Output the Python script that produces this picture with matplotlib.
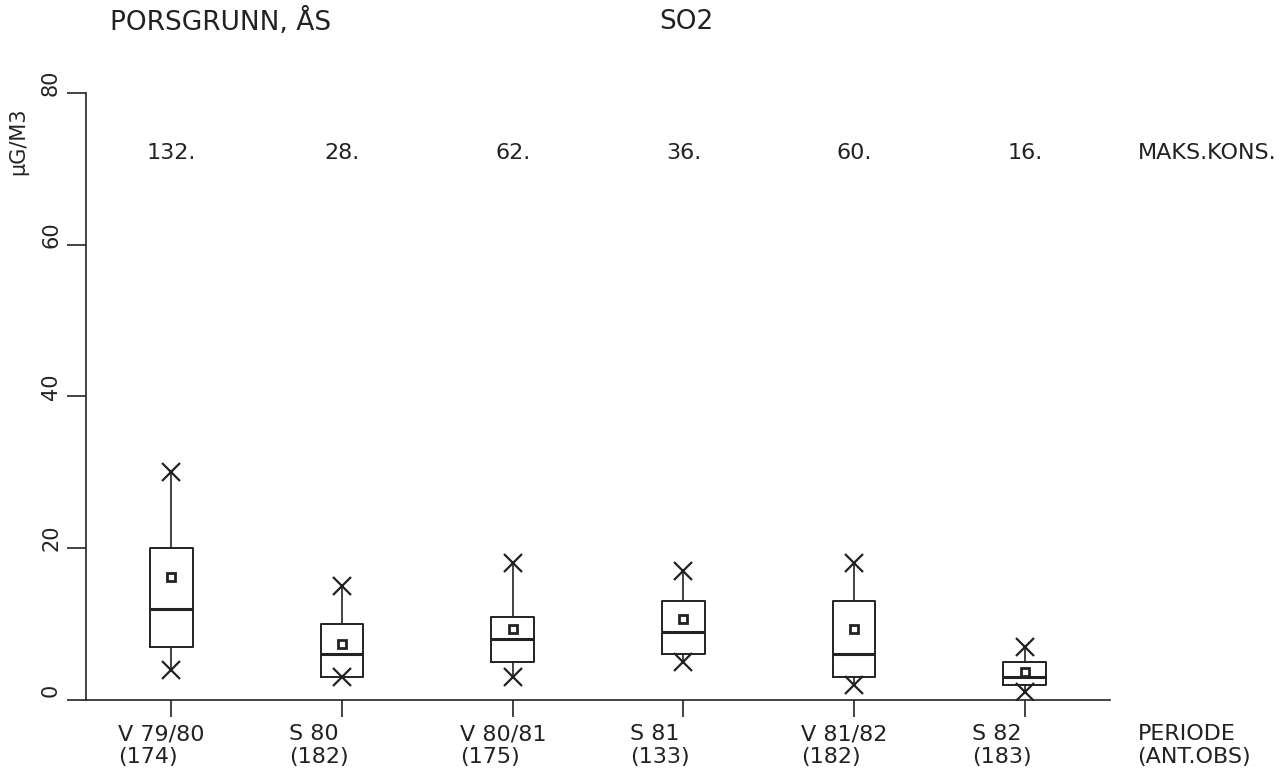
import matplotlib
matplotlib.use("Agg")
import matplotlib.pyplot as plt
import matplotlib.transforms as mtransforms

# periods, observation counts and box statistics (ug/m3)
periods = ["V 79/80", "S 80", "V 80/81", "S 81", "V 81/82", "S 82"]
n_obs = [174, 182, 175, 133, 182, 183]
max_kons = ["132.", "28.", "62.", "36.", "60.", "16."]
whis_lo = [4, 3, 3, 5, 2, 1]
q1 = [7, 3, 5, 6, 3, 2]
median = [12, 6, 8, 9, 6, 3]
q3 = [20, 10, 11, 13, 13, 5]
whis_hi = [30, 15, 18, 17, 18, 7]
mean = [16.2, 7.4, 9.3, 10.7, 9.4, 3.7]

INK = "#222222"
plt.rcParams["font.family"] = ["DejaVu Sans"]

fig = plt.figure(figsize=(12.86, 7.71), dpi=100)
ax = fig.add_axes([0.0669, 0.0921, 0.7963, 0.7873])

pos = list(range(1, len(periods) + 1))
stats = []
for i in range(len(periods)):
    stats.append({"med": median[i], "q1": q1[i], "q3": q3[i],
                  "whislo": whis_lo[i], "whishi": whis_hi[i],
                  "mean": mean[i], "fliers": []})

ax.bxp(stats, positions=pos, widths=0.25, showcaps=False, showmeans=True,
       showfliers=False,
       boxprops=dict(color=INK, linewidth=1.4),
       whiskerprops=dict(color=INK, linewidth=1.2),
       medianprops=dict(color=INK, linewidth=2.2),
       meanprops=dict(marker="s", markersize=6, markerfacecolor="white",
                      markeredgecolor=INK, markeredgewidth=2.0))

# extreme values as crosses at the whisker ends
ax.plot(pos, whis_hi, ls="none", marker="x", ms=13, mew=1.6, color=INK)
ax.plot(pos, whis_lo, ls="none", marker="x", ms=13, mew=1.6, color=INK)

ax.set_xlim(0.5, 6.5)
ax.set_ylim(0, 80)
for s in ["top", "right"]:
    ax.spines[s].set_visible(False)
for s in ["left", "bottom"]:
    ax.spines[s].set_color(INK)
    ax.spines[s].set_linewidth(1.2)

ax.set_xticks(pos)
ax.set_xticklabels([])
ax.tick_params(axis="x", direction="out", length=12, width=1.2, color=INK)

ax.set_yticks([0, 20, 40, 60, 80])
ax.set_yticklabels(["0", "20", "40", "60", "80"], rotation=90, va="center",
                   fontsize=15, color=INK)
ax.tick_params(axis="y", direction="out", length=14, width=1.2, color=INK, pad=4)
shift = mtransforms.ScaledTranslation(0, 10 / 100, fig.dpi_scale_trans)
for lab in ax.get_yticklabels():
    lab.set_transform(lab.get_transform() + shift)

# period labels under the axis
for p, name, n in zip(pos, periods, n_obs):
    ax.text(p - 0.31, -3.2, f"{name}\n({n})", ha="left", va="top",
            fontsize=16, color=INK, linespacing=1.15, clip_on=False)
ax.text(6.66, -3.2, "PERIODE\n(ANT.OBS)", ha="left", va="top",
        fontsize=16, color=INK, linespacing=1.15, clip_on=False)

# maximum concentrations along the top
for p, m in zip(pos, max_kons):
    ax.text(p, 72.1, m, ha="center", va="center", fontsize=16, color=INK,
            clip_on=False)
ax.text(6.66, 72.1, "MAKS.KONS.", ha="left", va="center", fontsize=16,
        color=INK, clip_on=False)

ax.text(0.10, 73.7, "µG/M3", rotation=90, ha="center", va="center",
        fontsize=15, color=INK, clip_on=False)

fig.text(110 / 1286, 1 - 22 / 771, "PORSGRUNN, ÅS", ha="left", va="center",
         fontsize=19, color=INK)
fig.text(686 / 1286, 1 - 22 / 771, "SO2", ha="center", va="center",
         fontsize=19, color=INK)

fig.savefig("out.png", dpi=100, facecolor="white")
